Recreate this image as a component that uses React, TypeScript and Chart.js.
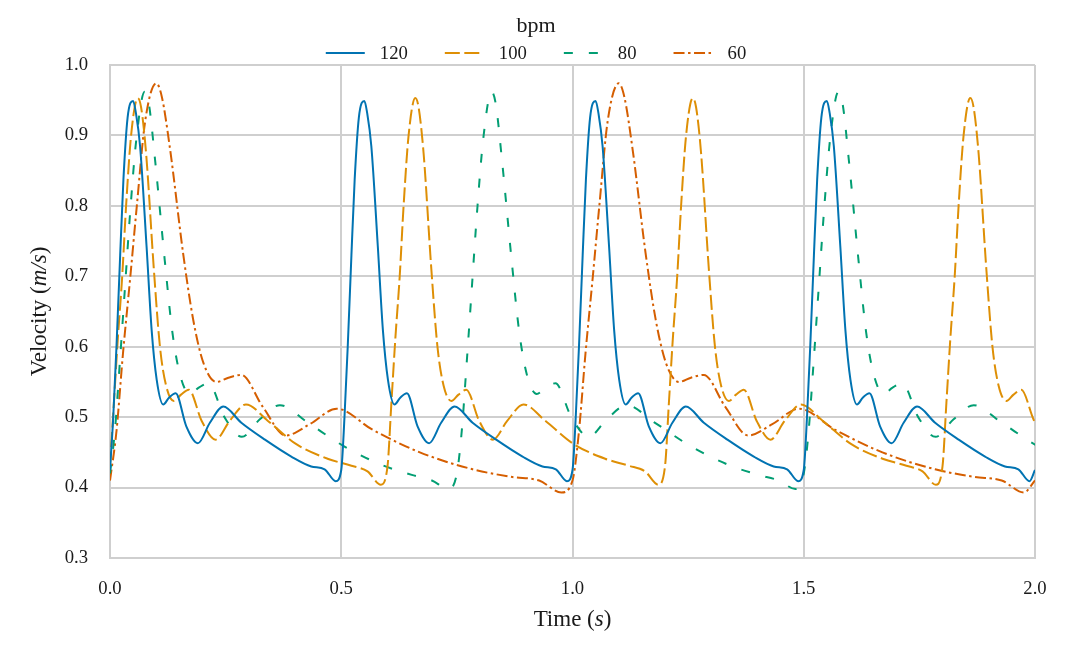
import { useEffect, useRef } from "react"
import { Chart, registerables } from "chart.js"

Chart.register(...registerables)

const FONT = "'Liberation Serif', 'Times New Roman', serif"
const TEXT = "#1a1a1a"
const GRID = "#cfcfcf"

// position inside one beat (fraction of the beat period)
const beatPhase = [
  0, 0.014, 0.028, 0.044, 0.058, 0.076, 0.1, 0.112, 0.13, 0.158, 0.18, 0.202, 0.23,
  0.256, 0.284, 0.33, 0.38, 0.432, 0.49, 0.568, 0.67, 0.784, 0.87, 0.928, 0.976,
]

// velocity over one beat for each heart rate
const velocity120 = [
  0.425, 0.5, 0.6, 0.73, 0.837, 0.925, 0.949, 0.932, 0.885, 0.743, 0.624, 0.553, 0.518,
  0.528, 0.534, 0.487, 0.463, 0.492, 0.515, 0.492, 0.468, 0.444, 0.43, 0.426, 0.409,
]
const velocity100 = [
  0.43, 0.52, 0.61, 0.7, 0.8, 0.9, 0.953, 0.94, 0.875, 0.71, 0.6, 0.545, 0.523,
  0.532, 0.539, 0.495, 0.468, 0.495, 0.518, 0.495, 0.462, 0.441, 0.431, 0.423, 0.404,
]
const velocity80 = [
  0.42, 0.48, 0.575, 0.69, 0.79, 0.895, 0.962, 0.945, 0.865, 0.722, 0.62, 0.56, 0.533,
  0.542, 0.548, 0.5, 0.472, 0.497, 0.517, 0.493, 0.46, 0.432, 0.418, 0.41, 0.398,
]
const velocity60 = [
  0.41, 0.48, 0.59, 0.7, 0.8, 0.92, 0.974, 0.955, 0.88, 0.733, 0.638, 0.577, 0.55,
  0.556, 0.56, 0.515, 0.474, 0.49, 0.512, 0.482, 0.45, 0.426, 0.415, 0.41, 0.393,
]

const bpmLabels = ["120", "100", "80", "60"]
const bpmValues = [120, 100, 80, 60]
const beatVelocities = [velocity120, velocity100, velocity80, velocity60]
const colors = ["#0173b2", "#de8f05", "#029e73", "#d55e00"]
const dashes = [[], [15, 4.5], [9, 16], [11, 3.5, 2.5, 3.5]]

const timeTicks = [0, 0.5, 1.0, 1.5, 2.0]
const velocityTicks = [0.3, 0.4, 0.5, 0.6, 0.7, 0.8, 0.9, 1.0]

// lay the beat end to end until the time axis is covered
function beatSeries(bpm: number, values: number[]) {
  const period = 60 / bpm
  const pts: { x: number; y: number }[] = []
  let k = 0
  while (k * period < timeTicks[timeTicks.length - 1]) {
    beatPhase.forEach((p, i) => pts.push({ x: (k + p) * period, y: values[i] }))
    k++
  }
  pts.push({ x: k * period, y: values[0] })
  return pts
}

function drawRich(ctx: CanvasRenderingContext2D, parts: [string, boolean][], cx: number, cy: number, size: number) {
  const widths = parts.map(([t, it]) => {
    ctx.font = `${it ? "italic " : ""}${size}px ${FONT}`
    return ctx.measureText(t).width
  })
  let x = cx - widths.reduce((a, b) => a + b, 0) / 2
  ctx.textAlign = "left"
  ctx.textBaseline = "middle"
  parts.forEach(([t, it], i) => {
    ctx.font = `${it ? "italic " : ""}${size}px ${FONT}`
    ctx.fillText(t, x, cy)
    x += widths[i]
  })
}

const annotations = {
  id: "annotations",
  afterDraw(chart: any) {
    const ctx: CanvasRenderingContext2D = chart.ctx
    const area = chart.chartArea
    ctx.save()
    ctx.fillStyle = TEXT

    // axis titles
    drawRich(ctx, [["Time (", false], ["s", true], [")", false]], (area.left + area.right) / 2, 620, 23)
    ctx.save()
    ctx.translate(40, (area.top + area.bottom) / 2)
    ctx.rotate(-Math.PI / 2)
    drawRich(ctx, [["Velocity (", false], ["m/s", true], [")", false]], 0, 0, 23)
    ctx.restore()

    // legend
    const cx = 536
    ctx.textAlign = "center"
    ctx.textBaseline = "middle"
    ctx.font = `22px ${FONT}`
    ctx.fillText("bpm", cx, 26)
    ctx.font = `18.7px ${FONT}`
    const lineLen = 39
    const textGap = 15
    const itemGap = 37
    const ds = chart.data.datasets
    const widths = ds.map((d: any) => ctx.measureText(d.label).width)
    const total = widths.reduce((a: number, w: number) => a + lineLen + textGap + w, 0) + itemGap * (ds.length - 1)
    let x = cx - total / 2
    ds.forEach((d: any, i: number) => {
      ctx.strokeStyle = d.borderColor
      ctx.lineWidth = 2
      ctx.setLineDash(d.borderDash || [])
      ctx.beginPath()
      ctx.moveTo(x, 53)
      ctx.lineTo(x + lineLen, 53)
      ctx.stroke()
      ctx.setLineDash([])
      ctx.textAlign = "left"
      ctx.fillText(d.label, x + lineLen + textGap, 54)
      x += lineLen + textGap + widths[i] + itemGap
    })
    ctx.restore()
  },
}

export default function App() {
  const canvasRef = useRef<HTMLCanvasElement>(null)

  useEffect(() => {
    document.body.style.margin = "0"
    if (!canvasRef.current) return
    const ctx = canvasRef.current.getContext("2d")
    if (!ctx) return

    const chart = new Chart(ctx, {
      type: "line",
      data: {
        datasets: bpmLabels.map((label, i) => ({
          label,
          data: beatSeries(bpmValues[i], beatVelocities[i]),
          borderColor: colors[i],
          backgroundColor: colors[i],
          borderDash: dashes[i],
          borderWidth: 2,
          pointRadius: 0,
          cubicInterpolationMode: "monotone" as const,
          fill: false,
        })),
      },
      options: {
        animation: false,
        responsive: true,
        maintainAspectRatio: false,
        layout: { padding: { left: 0, right: 45, top: 65, bottom: 0 } },
        plugins: {
          legend: { display: false },
          tooltip: { enabled: false },
        },
        scales: {
          x: {
            type: "linear",
            min: timeTicks[0],
            max: timeTicks[timeTicks.length - 1],
            afterFit: (scale: any) => {
              scale.height = 87
            },
            afterBuildTicks: (scale: any) => {
              scale.ticks = timeTicks.map((v) => ({ value: v }))
            },
            ticks: {
              padding: 20,
              color: TEXT,
              font: { family: FONT, size: 18.7 },
              callback: (v: any) => Number(v).toFixed(1),
            },
            grid: { color: GRID, lineWidth: 2, drawTicks: false },
            border: { display: true, color: GRID, width: 2 },
          },
          y: {
            min: velocityTicks[0],
            max: velocityTicks[velocityTicks.length - 1],
            afterFit: (scale: any) => {
              scale.width = 110
            },
            afterBuildTicks: (scale: any) => {
              scale.ticks = velocityTicks.map((v) => ({ value: v }))
            },
            ticks: {
              padding: 22,
              color: TEXT,
              font: { family: FONT, size: 18.7 },
              callback: (v: any) => Number(v).toFixed(1),
            },
            grid: { color: GRID, lineWidth: 2, drawTicks: false },
            border: { display: true, color: GRID, width: 2 },
          },
        },
      },
      plugins: [annotations],
    })

    return () => chart.destroy()
  }, [])

  return (
    <div style={{ width: 1080, height: 645, position: "relative", background: "#ffffff" }}>
      <canvas ref={canvasRef}></canvas>
    </div>
  )
}
